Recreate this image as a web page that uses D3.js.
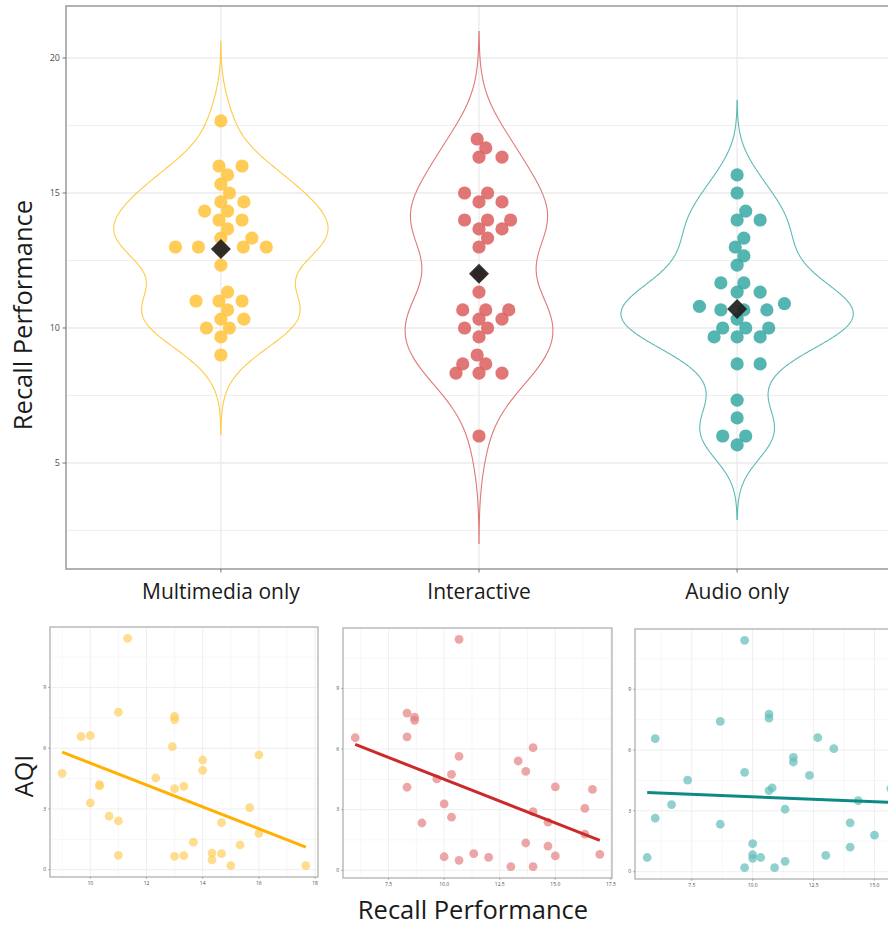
<!DOCTYPE html>
<html>
<head>
<meta charset="utf-8">
<script src="https://cdnjs.cloudflare.com/ajax/libs/d3/7.8.5/d3.min.js"></script>
<style>
body { margin: 0; background: #fff; }
svg { display: block; font-family: "Open Sans", sans-serif; }
</style>
</head>
<body>
<div id="chart"></div>
<script>
// categories
var groups = ["Multimedia only", "Interactive", "Audio only"];

// recall performance per participant, paired with AQI (same order)
var recallMultimedia = [11.33, 11, 13, 13, 9.67, 10, 12.92, 16, 14, 14, 9, 12.33, 10.33, 13.33, 13, 10,
    15.67, 10.67, 11, 14.67, 16, 13.67, 15.33, 11, 13, 13.33, 14.33, 14.33, 14.67, 15, 17.67, 10.33];
var aqiMultimedia = [11.43, 7.78, 7.57, 7.42, 6.58, 6.62, 6.08, 5.67, 5.42, 4.91, 4.76, 4.53, 4.14, 4.12, 4.0, 3.30,
    3.07, 2.64, 2.41, 2.33, 1.79, 1.36, 1.22, 0.71, 0.66, 0.69, 0.82, 0.49, 0.79, 0.20, 0.20, 4.2];

var recallInteractive = [10.67, 8.33, 8.67, 8.67, 6, 8.33, 14, 10.67, 13.33, 13.67, 10.33, 9.67, 8.33, 15, 16.67, 10,
    16.33, 10.33, 9, 14.67, 16.33, 13.67, 14.67, 11.33, 10, 10.67, 12, 15, 17, 13, 14, 14];
var aqiInteractive = [11.43, 7.78, 7.58, 7.42, 6.56, 6.60, 6.07, 5.64, 5.41, 4.90, 4.75, 4.52, 4.11, 4.13, 4.0, 3.29,
    3.06, 2.63, 2.34, 2.38, 1.79, 1.35, 1.20, 0.82, 0.67, 0.49, 0.64, 0.71, 0.79, 0.18, 0.18, 2.9];

var recallAudio = [9.67, 10.67, 10.67, 8.67, 6, 12.67, 13.33, 11.67, 11.67, 9.67, 12.33, 7.33, 10.8, 10.67, 6.67, 11.33,
    6, 8.67, 14, 15, 10, 14, 10, 10, 10.33, 13, 5.67, 11.33, 9.67, 10.9, 14.33, 15.67];
var aqiAudio = [11.41, 7.77, 7.57, 7.41, 6.56, 6.61, 6.07, 5.64, 5.41, 4.90, 4.75, 4.52, 4.13, 4.0, 3.31, 3.08,
    2.64, 2.34, 2.41, 1.80, 1.38, 1.21, 0.84, 0.66, 0.70, 0.80, 0.70, 0.51, 0.20, 0.20, 3.5, 4.1];

// tick labels
var recallTicks = [5, 10, 15, 20];
var aqiTicks = [0, 3, 6, 9];
var scatterTicks = [
    [10, 12, 14, 16, 18],
    [7.5, 10, 12.5, 15, 17.5],
    [7.5, 10, 12.5, 15, 17.5]
];
var scatterTickFormat = [d3.format("d"), d3.format(".1f"), d3.format(".1f")];

var recall = [recallMultimedia, recallInteractive, recallAudio];
var aqi = [aqiMultimedia, aqiInteractive, aqiAudio];

// styling
var dotColors = ["#FFC43A", "#DA5F5E", "#36A8A3"];
var violinColors = ["#FFCB45", "#E07878", "#5DBAB5"];
var lightDotColors = ["#FFCE60", "#E48080", "#63BDB8"];
var lineColors = ["#FFB000", "#CC2A2A", "#0E8A85"];
var gridColor = "#EBEBEB";
var frameColor = "#999999";
var tickText = "#4D4D4D";

var W = 888, H = 926;

var svg = d3.select("#chart")
    .append("svg")
    .attr("width", W)
    .attr("height", H);

// ---------- top: violins + swarm ----------
var mainBox = {left: 66, top: 6, right: 892, bottom: 569};

function bwNrd0(v) {
    var s = v.slice().sort(d3.ascending);
    var sd = d3.deviation(s);
    var iqr = d3.quantile(s, 0.75) - d3.quantile(s, 0.25);
    var lo = Math.min(sd, iqr / 1.34);
    return 0.9 * lo * Math.pow(s.length, -0.2);
}

function kde(v) {
    var bw = bwNrd0(v);
    var lo = d3.min(v) - 3 * bw, hi = d3.max(v) + 3 * bw;
    var n = 512, out = [];
    for (var k = 0; k < n; k++) {
        var t = lo + (hi - lo) * k / (n - 1);
        var s = 0;
        v.forEach(function(x) {
            var z = (t - x) / bw;
            s += Math.exp(-0.5 * z * z);
        });
        out.push({value: t, density: s / (v.length * bw * Math.sqrt(2 * Math.PI))});
    }
    return out;
}

var densities = recall.map(kde);
var maxDensity = d3.max(densities, function(d) { return d3.max(d, function(p) { return p.density; }); });
var yLo = d3.min(densities, function(d) { return d[0].value; });
var yHi = d3.max(densities, function(d) { return d[d.length - 1].value; });
var yPad = (yHi - yLo) * 0.05;

var x = d3.scalePoint()
    .domain(groups)
    .range([mainBox.left, mainBox.right])
    .padding(0.6);

var y = d3.scaleLinear()
    .domain([yLo - yPad, yHi + yPad])
    .range([mainBox.bottom, mainBox.top]);

var gTop = svg.append("g");

// grid
var minorY = recallTicks.map(function(t) { return t - 2.5; });
gTop.selectAll(".minor-y")
    .data(minorY)
    .enter()
    .append("line")
    .attr("x1", mainBox.left).attr("x2", mainBox.right)
    .attr("y1", d => y(d)).attr("y2", d => y(d))
    .style("stroke", gridColor).style("stroke-width", 0.8);
gTop.selectAll(".major-y")
    .data(recallTicks)
    .enter()
    .append("line")
    .attr("x1", mainBox.left).attr("x2", mainBox.right)
    .attr("y1", d => y(d)).attr("y2", d => y(d))
    .style("stroke", gridColor).style("stroke-width", 1.3);
gTop.selectAll(".major-x")
    .data(groups)
    .enter()
    .append("line")
    .attr("x1", d => x(d)).attr("x2", d => x(d))
    .attr("y1", mainBox.top).attr("y2", mainBox.bottom)
    .style("stroke", gridColor).style("stroke-width", 1.3);

// violins
var step = x.step();
var vw = d3.scaleLinear().domain([0, maxDensity]).range([0, step * 0.45]);

groups.forEach(function(g, i) {
    var cx = x(g);
    var area = d3.area()
        .x0(function(p) { return cx - vw(p.density); })
        .x1(function(p) { return cx + vw(p.density); })
        .y(function(p) { return y(p.value); });
    gTop.append("path")
        .attr("d", area(densities[i]))
        .style("fill", "none")
        .style("stroke", violinColors[i])
        .style("stroke-width", 1.1);
});

// swarm layout (ascending priority, elliptic collision)
var dotR = 6.6, collideX = 23, collideY = 9.6;
function swarm(vals, cx) {
    var order = d3.range(vals.length).sort(function(a, b) { return vals[a] - vals[b] || a - b; });
    var placed = [];
    var pos = new Array(vals.length);
    function hit(px, py) {
        return placed.some(function(p) {
            var dx = (p.x - px) / collideX, dy = (p.y - py) / collideY;
            return dx * dx + dy * dy < 1 - 1e-6;
        });
    }
    order.forEach(function(i) {
        var py = y(vals[i]);
        var cands = [0];
        placed.forEach(function(p) {
            var dy = (p.y - py) / collideY;
            if (Math.abs(dy) < 1) {
                var dx = collideX * Math.sqrt(1 - dy * dy) + 0.01;
                cands.push(p.x + dx, p.x - dx);
            }
        });
        cands.sort(function(a, b) { return Math.abs(a) - Math.abs(b) || b - a; });
        var px = cands.find(function(c) { return !hit(c, py); });
        placed.push({x: px, y: py});
        pos[i] = {x: cx + px, y: py};
    });
    return pos;
}

groups.forEach(function(g, i) {
    var pts = swarm(recall[i], x(g));
    gTop.append("g")
        .selectAll("circle")
        .data(pts)
        .enter()
        .append("circle")
        .attr("cx", d => d.x)
        .attr("cy", d => d.y)
        .attr("r", dotR)
        .style("fill", dotColors[i])
        .style("opacity", 0.85);

    var m = d3.mean(recall[i]);
    gTop.append("path")
        .attr("d", d3.symbol().type(d3.symbolSquare).size(200)())
        .attr("transform", "translate(" + x(g) + "," + y(m) + ") rotate(45)")
        .style("fill", "#1E1E1E")
        .style("opacity", 0.92);
});

// frame, ticks, labels
gTop.append("rect")
    .attr("x", mainBox.left).attr("y", mainBox.top)
    .attr("width", mainBox.right - mainBox.left).attr("height", mainBox.bottom - mainBox.top)
    .style("fill", "none").style("stroke", frameColor).style("stroke-width", 1.5);

gTop.selectAll(".ytick")
    .data(recallTicks)
    .enter()
    .append("line")
    .attr("x1", mainBox.left - 3.5).attr("x2", mainBox.left)
    .attr("y1", d => y(d)).attr("y2", d => y(d))
    .style("stroke", "#555").style("stroke-width", 0.8);
gTop.selectAll(".ylab")
    .data(recallTicks)
    .enter()
    .append("text")
    .attr("x", mainBox.left - 6)
    .attr("y", d => y(d) + 3.2)
    .attr("text-anchor", "end")
    .style("font-size", "9px")
    .style("fill", tickText)
    .text(d => d);
gTop.selectAll(".xtick")
    .data(groups)
    .enter()
    .append("line")
    .attr("x1", d => x(d)).attr("x2", d => x(d))
    .attr("y1", mainBox.bottom).attr("y2", mainBox.bottom + 3.5)
    .style("stroke", "#555").style("stroke-width", 0.8);
gTop.selectAll(".xlab")
    .data(groups)
    .enter()
    .append("text")
    .attr("x", d => x(d))
    .attr("y", 599)
    .attr("text-anchor", "middle")
    .style("font-size", "21px")
    .style("fill", "#1a1a1a")
    .text(d => d);

svg.append("text")
    .attr("transform", "translate(32,315) rotate(-90)")
    .attr("text-anchor", "middle")
    .style("font-size", "25.5px")
    .style("fill", "#1a1a1a")
    .text("Recall Performance");

// ---------- bottom: AQI vs recall scatter panels ----------
var panels = [
    {x: 50, y: 627, w: 268, h: 250},
    {x: 343, y: 628, w: 269, h: 250},
    {x: 635, y: 629, w: 268, h: 250}
];

function padded(v) {
    var e = d3.extent(v), p = (e[1] - e[0]) * 0.05;
    return [e[0] - p, e[1] + p];
}

function minors(ticks, dom) {
    var st = ticks[1] - ticks[0], out = [];
    for (var t = ticks[0] - st / 2; t <= dom[1]; t += st) {
        if (t >= dom[0]) out.push(t);
    }
    return out;
}

function inDomain(ticks, dom) {
    return ticks.filter(function(t) { return t >= dom[0] && t <= dom[1]; });
}

groups.forEach(function(g, i) {
    var p = panels[i];
    var xs = recall[i], ys = aqi[i];
    var sx = d3.scaleLinear().domain(padded(xs)).range([p.x, p.x + p.w]);
    var sy = d3.scaleLinear().domain(padded(ys)).range([p.y + p.h, p.y]);
    var xt = inDomain(scatterTicks[i], sx.domain());
    var gp = svg.append("g");

    gp.selectAll(".mx").data(minors(scatterTicks[i], sx.domain())).enter().append("line")
        .attr("x1", d => sx(d)).attr("x2", d => sx(d)).attr("y1", p.y).attr("y2", p.y + p.h)
        .style("stroke", "#F2F2F2").style("stroke-width", 0.6);
    gp.selectAll(".my").data(minors(aqiTicks, sy.domain())).enter().append("line")
        .attr("x1", p.x).attr("x2", p.x + p.w).attr("y1", d => sy(d)).attr("y2", d => sy(d))
        .style("stroke", "#F2F2F2").style("stroke-width", 0.6);
    gp.selectAll(".gx").data(xt).enter().append("line")
        .attr("x1", d => sx(d)).attr("x2", d => sx(d)).attr("y1", p.y).attr("y2", p.y + p.h)
        .style("stroke", gridColor).style("stroke-width", 0.8);
    gp.selectAll(".gy").data(aqiTicks).enter().append("line")
        .attr("x1", p.x).attr("x2", p.x + p.w).attr("y1", d => sy(d)).attr("y2", d => sy(d))
        .style("stroke", gridColor).style("stroke-width", 0.8);

    var pts = xs.map(function(v, k) { return {r: v, a: ys[k]}; });
    gp.append("g").selectAll("circle")
        .data(pts)
        .enter()
        .append("circle")
        .attr("cx", d => sx(d.r))
        .attr("cy", d => sy(d.a))
        .attr("r", 4.4)
        .style("fill", lightDotColors[i])
        .style("opacity", 0.7);

    // least squares fit
    var mx = d3.mean(xs), my = d3.mean(ys);
    var sxy = d3.sum(xs, function(v, k) { return (v - mx) * (ys[k] - my); });
    var sxx = d3.sum(xs, function(v) { return (v - mx) * (v - mx); });
    var slope = sxy / sxx, icpt = my - slope * mx;
    var ext = d3.extent(xs);
    gp.append("line")
        .attr("x1", sx(ext[0])).attr("y1", sy(icpt + slope * ext[0]))
        .attr("x2", sx(ext[1])).attr("y2", sy(icpt + slope * ext[1]))
        .style("stroke", lineColors[i])
        .style("stroke-width", 3);

    gp.append("rect")
        .attr("x", p.x).attr("y", p.y).attr("width", p.w).attr("height", p.h)
        .style("fill", "none").style("stroke", "#AAAAAA").style("stroke-width", 1.2);

    gp.selectAll(".ty").data(aqiTicks).enter().append("line")
        .attr("x1", p.x - 2).attr("x2", p.x).attr("y1", d => sy(d)).attr("y2", d => sy(d))
        .style("stroke", "#777").style("stroke-width", 0.5);
    gp.selectAll(".ly").data(aqiTicks).enter().append("text")
        .attr("x", p.x - 4).attr("y", d => sy(d) + 1.7)
        .attr("text-anchor", "end")
        .style("font-size", "5px").style("fill", tickText)
        .text(d => d);
    gp.selectAll(".tx").data(xt).enter().append("line")
        .attr("x1", d => sx(d)).attr("x2", d => sx(d)).attr("y1", p.y + p.h).attr("y2", p.y + p.h + 2)
        .style("stroke", "#777").style("stroke-width", 0.5);
    gp.selectAll(".lx").data(xt).enter().append("text")
        .attr("x", d => sx(d)).attr("y", p.y + p.h + 7.5)
        .attr("text-anchor", "middle")
        .style("font-size", "5px").style("fill", tickText)
        .text(d => scatterTickFormat[i](d));
});

svg.append("text")
    .attr("transform", "translate(33,776) rotate(-90)")
    .attr("text-anchor", "middle")
    .style("font-size", "25px")
    .style("fill", "#1a1a1a")
    .text("AQI");

svg.append("text")
    .attr("x", 473)
    .attr("y", 919)
    .attr("text-anchor", "middle")
    .style("font-size", "25.5px")
    .style("fill", "#1a1a1a")
    .text("Recall Performance");
</script>
</body>
</html>
